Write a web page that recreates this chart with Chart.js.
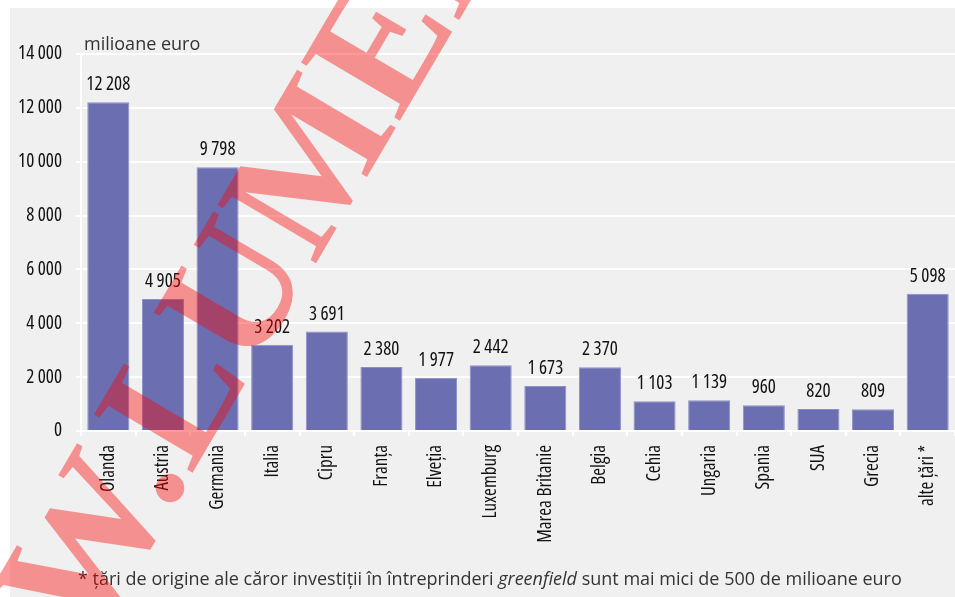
<!DOCTYPE html>
<html>
<head>
<meta charset="utf-8">
<script src="https://cdn.jsdelivr.net/npm/chart.js@4.4.1/dist/chart.umd.min.js"></script>
<style>
  html, body { margin: 0; padding: 0; background: #ffffff; }
  #wrap { width: 955px; height: 597px; position: relative; }
</style>
</head>
<body>
<div id="wrap"><canvas id="chart" width="955" height="597"></canvas></div>
<script>
// --- DATA ---
const countries = ['Olanda', 'Austria', 'Germania', 'Italia', 'Cipru', 'Franța', 'Elveția', 'Luxemburg',
  'Marea Britanie', 'Belgia', 'Cehia', 'Ungaria', 'Spania', 'SUA', 'Grecia', 'alte țări *'];
const investments = [12208, 4905, 9798, 3202, 3691, 2380, 1977, 2442, 1673, 2370, 1103, 1139, 960, 820, 809, 5098];
const yTicks = [0, 2000, 4000, 6000, 8000, 10000, 12000, 14000];
const unitLabel = 'milioane euro';
const footParts = [
  { text: '* țări de origine ale căror investiții în întreprinderi ', italic: false },
  { text: 'greenfield', italic: true },
  { text: ' sunt mai mici de 500 de milioane euro', italic: false }
];
const watermarkText = 'WWW.LUMEN.RO';

// --- STYLE ---
const BAR_COLOR = '#6b6fb1';
const PANEL_COLOR = '#f0f0f0';
const PLAIN = "'Open Sans', 'Noto Sans', sans-serif";
// condensed face of Open Sans, passed through the weight slot of the font string
const NARROW_FONT = { family: PLAIN, size: 19, weight: '500 condensed' };

function fmt(v) {
  return String(v).replace(/\B(?=(\d{3})+(?!\d))/g, ' ');
}

// --- PLUGINS ---
const panelPlugin = {
  id: 'panel',
  beforeDraw(chart) {
    const ctx = chart.ctx;
    ctx.save();
    ctx.fillStyle = PANEL_COLOR;
    ctx.fillRect(10, 8, chart.width - 10, chart.height - 8);
    ctx.restore();
  }
};

const valueLabels = {
  id: 'valueLabels',
  afterDatasetsDraw(chart) {
    const ctx = chart.ctx;
    const meta = chart.getDatasetMeta(0);
    ctx.save();
    ctx.font = '500 condensed 19px ' + PLAIN;
    ctx.fillStyle = '#111111';
    ctx.textAlign = 'center';
    ctx.textBaseline = 'alphabetic';
    meta.data.forEach((bar, i) => {
      ctx.fillText(fmt(investments[i]), bar.x, bar.y - 12);
    });
    ctx.restore();
  }
};

const extraText = {
  id: 'extraText',
  afterDraw(chart) {
    const ctx = chart.ctx;
    ctx.save();
    ctx.fillStyle = '#333333';
    ctx.textBaseline = 'alphabetic';
    ctx.font = '18px ' + PLAIN;
    ctx.fillText(unitLabel, 84, 50);

    // footnote
    let x = 78;
    footParts.forEach(p => {
      ctx.font = (p.italic ? 'italic ' : '') + '18px ' + PLAIN;
      ctx.fillText(p.text, x, 585);
      x += ctx.measureText(p.text).width;
    });

    // watermark
    ctx.font = 'bold 175px "Liberation Serif", "DejaVu Serif", serif';
    ctx.fillStyle = 'rgba(252, 0, 0, 0.4)';
    ctx.translate(180, 494);
    ctx.rotate(-59.5 * Math.PI / 180);
    const pre = ctx.measureText('WWW.').width - ctx.measureText('.').width / 2;
    ctx.fillText(watermarkText, -pre, 0);
    ctx.restore();
  }
};

// --- CHART ---
new Chart(document.getElementById('chart'), {
  type: 'bar',
  data: {
    labels: countries,
    datasets: [{
      data: investments,
      backgroundColor: BAR_COLOR,
      borderColor: '#8c8fc6',
      borderWidth: 1,
      barPercentage: 0.77,
      categoryPercentage: 1.0
    }]
  },
  options: {
    responsive: false,
    animation: false,
    layout: { padding: { top: 54, left: 0, right: 0, bottom: 0 } },
    plugins: {
      legend: { display: false },
      tooltip: { enabled: false }
    },
    scales: {
      x: {
        grid: {
          display: true,
          drawOnChartArea: false,
          drawTicks: true,
          tickLength: 5,
          color: '#ffffff',
          lineWidth: 2
        },
        border: { display: true, color: '#ffffff', width: 2 },
        ticks: {
          autoSkip: false,
          maxRotation: 90,
          minRotation: 90,
          padding: 9,
          color: '#111111',
          font: NARROW_FONT
        },
        afterFit(scale) {
          scale.height = 166;
          scale.paddingLeft = 0;
          scale.paddingRight = 0;
        }
      },
      y: {
        min: 0,
        max: 14000,
        afterBuildTicks(scale) {
          scale.ticks = yTicks.map(v => ({ value: v }));
        },
        grid: {
          color: '#ffffff',
          lineWidth: 2,
          tickLength: 5,
          drawTicks: true
        },
        border: { display: true, color: '#ffffff', width: 2 },
        ticks: {
          padding: 14,
          color: '#111111',
          font: NARROW_FONT,
          callback: v => fmt(v)
        },
        afterFit(scale) {
          scale.width = 81;
          scale.paddingTop = 0;
          scale.paddingBottom = 0;
        }
      }
    }
  },
  plugins: [panelPlugin, valueLabels, extraText]
});
</script>
</body>
</html>
